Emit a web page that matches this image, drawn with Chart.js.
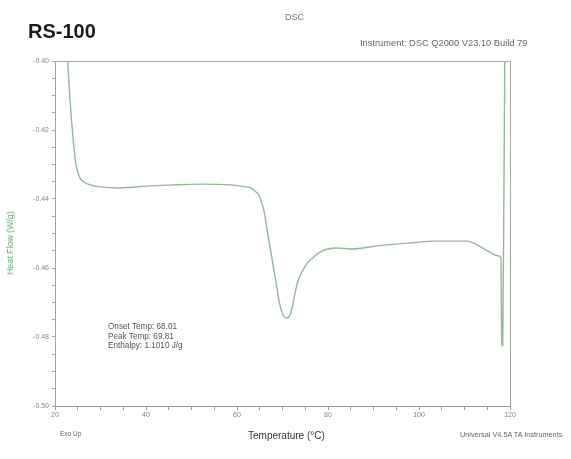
<!DOCTYPE html>
<html><head><meta charset="utf-8">
<script src="https://cdn.jsdelivr.net/npm/chart.js@4/dist/chart.umd.min.js"></script>
<style>
html,body{margin:0;padding:0;background:#fff;}
#wrap{position:relative;width:571px;height:459px;font-family:"Liberation Sans",Arial,sans-serif;}
canvas{position:absolute;left:0;top:0;}
.t{position:absolute;white-space:nowrap;color:#666;}
</style></head>
<body>
<div id="wrap">
<canvas id="c" width="571" height="459"></canvas>
<div class="t" style="left:28px;top:20px;font-size:20px;font-weight:bold;color:#1a1a1a;">RS-100</div>
<div class="t" style="left:285px;top:12px;font-size:9px;color:#777;">DSC</div>
<div class="t" style="left:360px;top:38px;font-size:9.3px;color:#666;">Instrument: DSC Q2000 V23.10 Build 79</div>
<div class="t" style="left:108px;top:322px;font-size:8.2px;line-height:9.5px;color:#555;">Onset Temp: 68.01<br>Peak Temp: 69.81<br>Enthalpy: 1.1010 J/g</div>
<div class="t" style="left:60px;top:430px;font-size:6.5px;color:#666;">Exo Up</div>
<div class="t" style="left:460px;top:430px;font-size:7.3px;color:#666;">Universal V4.5A TA Instruments</div>
<div class="t" style="left:248px;top:430px;font-size:10px;color:#333;">Temperature (°C)</div>
<div class="t" style="left:10px;top:243px;font-size:8.8px;color:#5aa85a;transform:translate(-50%,-50%) rotate(-90deg);">Heat Flow (W/g)</div>
</div>
<script>
const temperature = [22.5,22.8,23.3,24.0,24.6,25.5,26.5,27.7,30.0,34.3,40.9,46.0,52.0,58.6,61.5,63.0,64.0,64.8,65.4,65.9,66.4,67.0,67.6,68.1,68.7,69.2,69.8,70.3,71.0,71.6,72.2,72.9,73.6,74.5,75.5,76.6,78.0,79.9,82.1,85.4,90.8,97.3,103.9,110.4,111.5,114.8,117.5,118.0,118.2,118.4,118.7,118.9];
const heatFlow = [-0.390,-0.400,-0.4113,-0.4229,-0.4301,-0.4339,-0.4352,-0.4359,-0.4365,-0.4368,-0.4362,-0.4359,-0.4357,-0.4359,-0.4364,-0.4368,-0.4378,-0.4388,-0.4410,-0.4432,-0.4470,-0.4520,-0.4565,-0.4606,-0.4650,-0.4693,-0.4725,-0.4740,-0.4745,-0.4738,-0.4710,-0.4664,-0.4630,-0.4606,-0.4585,-0.4571,-0.4556,-0.4545,-0.4542,-0.4545,-0.4536,-0.4528,-0.4522,-0.4522,-0.4525,-0.4548,-0.4565,-0.4570,-0.4820,-0.4825,-0.4300,-0.3900];
const xLabels = [20,40,60,80,100,120];
const yLabels = [-0.40,-0.42,-0.44,-0.46,-0.48,-0.50];

const points = temperature.map((t,i)=>({x:t,y:heatFlow[i]}));

const frame = {
  id:'frame',
  afterDraw(chart){
    const {ctx, chartArea:a} = chart;
    ctx.save();
    ctx.strokeStyle='#a0a8a0';
    ctx.lineWidth=1;
    ctx.beginPath();
    ctx.moveTo(a.left, a.top+0.5);
    ctx.lineTo(a.right+0.5, a.top+0.5);
    ctx.lineTo(a.right+0.5, a.bottom);
    ctx.stroke();
    ctx.restore();
  }
};

const tickFont = {family:'"Liberation Sans", Arial, sans-serif', size:7};
new Chart(document.getElementById('c'), {
  type:'line',
  data:{datasets:[{data:points, borderColor:'#95b895', borderWidth:1.4, pointRadius:0, fill:false, cubicInterpolationMode:'monotone'}]},
  options:{
    responsive:false, animation:false, devicePixelRatio:1,
    layout:{padding:{top:61,right:61,left:0,bottom:0}},
    plugins:{legend:{display:false},tooltip:{enabled:false}},
    scales:{
      x:{type:'linear',min:20,max:120,
        afterFit(s){s.height=53;},
        ticks:{stepSize:5,autoSkip:false,maxRotation:0,color:'#888',font:tickFont,padding:1,
          callback:(v)=>xLabels.includes(v)?String(v):''},
        grid:{drawOnChartArea:false,tickLength:4,color:'#999'},
        border:{color:'#999'}
      },
      y:{type:'linear',min:-0.50,max:-0.40,
        afterFit(s){s.width=55;},
        ticks:{stepSize:0.005,autoSkip:false,color:'#888',font:tickFont,padding:3,
          callback:(v)=>{const r=Math.round(v*1000)/1000; return yLabels.some(l=>Math.abs(l-r)<1e-6)?r.toFixed(2):'';}},
        grid:{drawOnChartArea:false,tickLength:3,color:'#9aa89a'},
        border:{color:'#9aa89a'}
      }
    }
  },
  plugins:[frame]
});
</script>
</body></html>
